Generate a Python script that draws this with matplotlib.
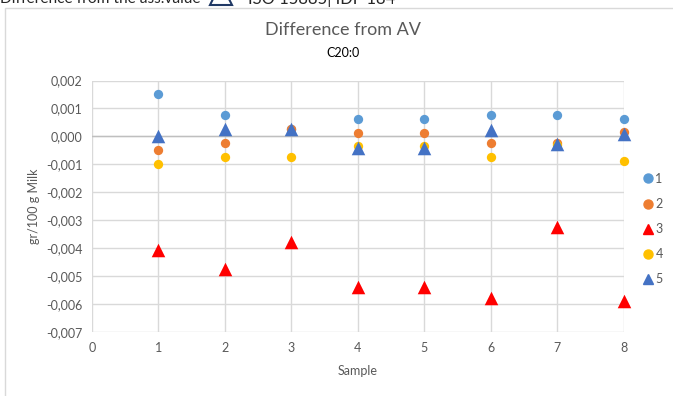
import numpy as np
import matplotlib
matplotlib.use('Agg')
import matplotlib.pyplot as plt
from matplotlib.patches import Rectangle
from matplotlib.lines import Line2D

# Data
samples = [1, 2, 3, 4, 5, 6, 7, 8]
s1 = [0.0015, 0.00075, 0.00025, 0.00062, 0.00062, 0.00075, 0.00075, 0.00062]
s2 = [-0.0005, -0.00025, 0.00025, 0.00013, 0.00013, -0.00024, -0.00025, 0.00015]
s3 = [-0.00405, -0.00476, -0.00377, -0.0054, -0.0054, -0.00578, -0.00326, -0.0059]
s4 = [-0.001, -0.00075, -0.00075, -0.00035, -0.00035, -0.00075, -0.0003, -0.00088]
s5 = [0.0, 0.00025, 0.00025, -0.0004, -0.0004, 0.00024, -0.00026, 0.0001]
series_names = ['1', '2', '3', '4', '5']
yticks = [0.002, 0.001, 0.0, -0.001, -0.002, -0.003, -0.004, -0.005, -0.006, -0.007]
xticks = [0, 1, 2, 3, 4, 5, 6, 7, 8]

colors = ['#5B9BD5', '#ED7D31', '#FF0000', '#FFC000', '#4472C4']
markers = ['o', 'o', '^', 'o', '^']
sizes = [45, 45, 95, 45, 95]

plt.rcParams['font.family'] = ['Lato', 'DejaVu Sans']
txt = '#595959'

fig = plt.figure(figsize=(6.73, 3.96), dpi=100)
ax = fig.add_axes([0.1367, 0.1616, 0.927 - 0.1367, 0.7967 - 0.1616])

# chart frame
fig.patches.append(Rectangle((5 / 673, -0.1), 1.2, 1.1 - 8 / 396, transform=fig.transFigure,
                             fill=False, edgecolor='#D9D9D9', linewidth=1.0))

data = [s1, s2, s3, s4, s5]
for vals, c, m, s in zip(data, colors, markers, sizes):
    ax.scatter(samples, vals, c=c, marker=m, s=s, linewidths=0, zorder=3, clip_on=False)

ax.set_xlim(0, 8)
ax.set_ylim(-0.007, 0.002)
ax.set_xticks(xticks)
ax.set_yticks(yticks)
ax.set_xticklabels([str(x) for x in xticks])
ax.set_yticklabels([f'{v:.3f}'.replace('.', ',') for v in yticks])
ax.tick_params(length=0, colors=txt, labelsize=9, pad=7)
ax.grid(True, color='#D9D9D9', linewidth=1.0, zorder=0)
ax.axhline(0, color='#BFBFBF', linewidth=1.0, zorder=1)
for sp in ax.spines.values():
    sp.set_visible(False)
ax.set_axisbelow(True)

ax.set_xlabel('Sample', color=txt, fontsize=9, labelpad=8)
ax.set_ylabel('gr/100 g Milk', color=txt, fontsize=9, labelpad=4)

fig.text(0.51, 1 - 30 / 396, 'Difference from AV', ha='center', va='center', fontsize=13, color=txt)
fig.text(0.51, 1 - 53 / 396, 'C20:0', ha='center', va='center', fontsize=9, color='black')

# cropped header above the chart
fig.text(0.0, 1 + 1 / 396, 'Difference from the ass.value', ha='left', va='center', fontsize=11.2, color='#262626')
fig.text(248 / 673, 1 + 1 / 396, 'ISO 15885| IDF 184', ha='left', va='center', fontsize=12, color='#262626')
fig.lines.append(Line2D([221 / 673], [1 + 6 / 396], transform=fig.transFigure, marker='^',
                        markersize=16, markerfacecolor='white', markeredgecolor='#1F3864',
                        markeredgewidth=1.5, linestyle='none'))

handles = [Line2D([], [], marker=m, color=c, linestyle='none', markersize=6.5 if m == 'o' else 7)
           for c, m in zip(colors, markers)]
leg = fig.legend(handles, series_names, loc='center left', bbox_to_anchor=(0.957, 1 - 229 / 396),
                 frameon=False, fontsize=9, handlelength=0.7, handletextpad=0.2, labelspacing=1.05,
                 borderaxespad=0, borderpad=0)
for t in leg.get_texts():
    t.set_color(txt)

fig.savefig('out.png', dpi=100)
